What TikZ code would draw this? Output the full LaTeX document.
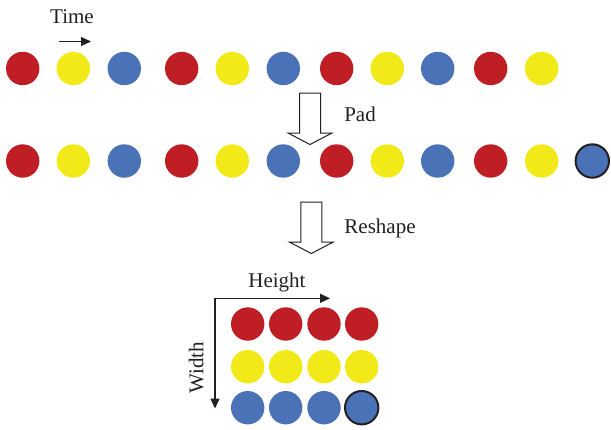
\documentclass[tikz,border=0pt]{standalone}
\usepackage{fontspec}
\setmainfont{Liberation Serif}
\usetikzlibrary{arrows.meta}
\definecolor{dotred}{RGB}{190,30,36}
\definecolor{dotyellow}{RGB}{242,233,24}
\definecolor{dotblue}{RGB}{73,114,183}
\definecolor{ink}{RGB}{35,31,32}
\begin{document}
\begin{tikzpicture}[x=1pt,y=-1pt,
  dot/.style={circle, minimum size=33.4pt, inner sep=0pt, outer sep=0pt},
  dred/.style={dot, fill=dotred},
  dyel/.style={dot, fill=dotyellow},
  dblu/.style={dot, fill=dotblue},
  dpad/.style={dot, fill=dotblue, draw=ink, line width=2pt},
  lbl/.style={inner sep=0pt, text=ink, font=\fontsize{21}{24}\selectfont, anchor=base},
  timeline/.style={draw=ink, line width=1.3pt, -{Triangle[length=10pt,width=9pt]}},
  axes/.style={draw=ink, line width=1.3pt,
    {Triangle[length=10pt,width=9pt]}-{Triangle[length=10pt,width=9pt]}},
  hollow/.style={draw=ink, line width=1pt, line join=miter, fill=white},
  downarrow/.pic={\draw[hollow] (-10.5,0) -- (10.5,0) -- (10.5,40) -- (22,40)
    -- (0,51.5) -- (-22,40) -- (-10.5,40) -- cycle;}
]
\useasboundingbox (0,0) rectangle (611,429);

% time direction
\node[lbl] (time) at (72,23.3) {Time};
\coordinate (tstart) at (59,41.5);
\coordinate (tend) at (91,41.5);
\draw[timeline] (tstart) -- (tend);

% original sequence
\foreach \x/\s [count=\i] in {22.7/dred,73.3/dyel,124.3/dblu,181.7/dred,232.3/dyel,
    283.3/dblu,336.7/dred,387.3/dyel,437.7/dblu,490.7/dred,541.7/dyel}
  \node[\s] (s\i) at (\x,68.5) {};

% padding step
\pic at (310,93) {downarrow};
\node[lbl] (pad) at (360,121.7) {Pad};

% padded sequence
\foreach \x/\s [count=\i] in {22.7/dred,73.3/dyel,124.3/dblu,181.7/dred,232.3/dyel,
    283.3/dblu,336.7/dred,387.3/dyel,437.7/dblu,490.7/dred,541.7/dyel,592.3/dpad}
  \node[\s] (p\i) at (\x,161) {};

% reshape step
\pic at (311.3,202) {downarrow};
\node[lbl] (reshape) at (380,233.3) {Reshape};

% axes of the reshaped grid
\coordinate (corner) at (215,298.3);
\coordinate (hend) at (330,298.3);
\coordinate (wend) at (215,408.5);
\draw[axes] (hend) -- (corner) -- (wend);
\node[lbl] (height) at (277,287.3) {Height};
\node[lbl, rotate=90] (width) at (203.3,367.5) {Width};

% reshaped grid
\foreach \x [count=\c] in {247.7,285.7,324,361.7} {
  \node[dred] (g1\c) at (\x,324) {};
  \node[dyel] (g2\c) at (\x,366.7) {};
}
\node[dblu] (g31) at (247.7,407.7) {};
\node[dblu] (g32) at (285.7,407.7) {};
\node[dblu] (g33) at (324,407.7) {};
\node[dpad] (g34) at (361.7,407.7) {};
\end{tikzpicture}
\end{document}
